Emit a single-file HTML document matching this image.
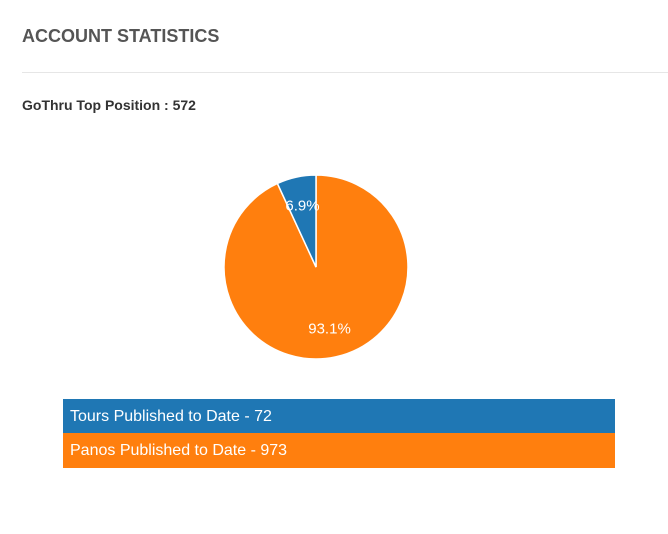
<!DOCTYPE html>
<html><head><meta charset="utf-8"><style>
body{margin:0;width:668px;height:534px;background:#fff;font-family:"Liberation Sans",sans-serif;position:relative;overflow:hidden}
.h{position:absolute;left:22px;top:26px;font-size:18px;font-weight:bold;color:#555}
.hr{position:absolute;left:22px;top:72px;width:646px;height:1px;background:#e6e6e6}
.sub{position:absolute;left:22px;top:97px;font-size:14px;font-weight:bold;color:#333}
.leg{position:absolute;left:63px;width:552px;height:35px;color:#fff;font-size:16px;line-height:35px;padding-left:7px;box-sizing:border-box}
</style></head><body>
<div class="h">ACCOUNT STATISTICS</div>
<div class="hr"></div>
<div class="sub">GoThru Top Position : 572</div>
<svg id="pie" width="668" height="534" style="position:absolute;left:0;top:0"></svg>
<div class="leg" style="top:399px;background:#1f77b4">Tours Published to Date - 72</div>
<div class="leg" style="top:433px;background:#ff7f0e;height:35px">Panos Published to Date - 973</div>
<script>
const categories=["Panos","Tours"];
const values=[973,72];
const colors=["#ff7f0e","#1f77b4"];
const svg=document.getElementById('pie');
const NS="http://www.w3.org/2000/svg";
const cx=316,cy=267,r=92,lr=63;
const total=values.reduce((a,b)=>a+b,0);
let a0=0;
function pt(a,rad){return [cx+rad*Math.sin(a),cy-rad*Math.cos(a)];}
values.forEach((v,i)=>{
  const a1=a0+v/total*2*Math.PI;
  const [x0,y0]=pt(a0,r),[x1,y1]=pt(a1,r);
  const large=(a1-a0)>Math.PI?1:0;
  const p=document.createElementNS(NS,'path');
  p.setAttribute('d',`M${cx},${cy}L${x0},${y0}A${r},${r} 0 ${large} 1 ${x1},${y1}Z`);
  p.setAttribute('fill',colors[i]);p.setAttribute('stroke','#fff');p.setAttribute('stroke-width','1.5');
  
  
  svg.appendChild(p);
  a0=a1;
});
a0=0;
values.forEach((v,i)=>{
  const a1=a0+v/total*2*Math.PI;
  const [lx,ly]=pt((a0+a1)/2,lr);
  const t=document.createElementNS(NS,'text');
  t.setAttribute('x',lx);t.setAttribute('y',ly+5);t.setAttribute('text-anchor','middle');
  t.setAttribute('fill','#fff');t.setAttribute('font-size','15');t.setAttribute('font-family','Liberation Sans, sans-serif');
  t.textContent=(v/total*100).toFixed(1)+'%';
  
  
  svg.appendChild(t);
  a0=a1;
});
</script>
</body></html>
